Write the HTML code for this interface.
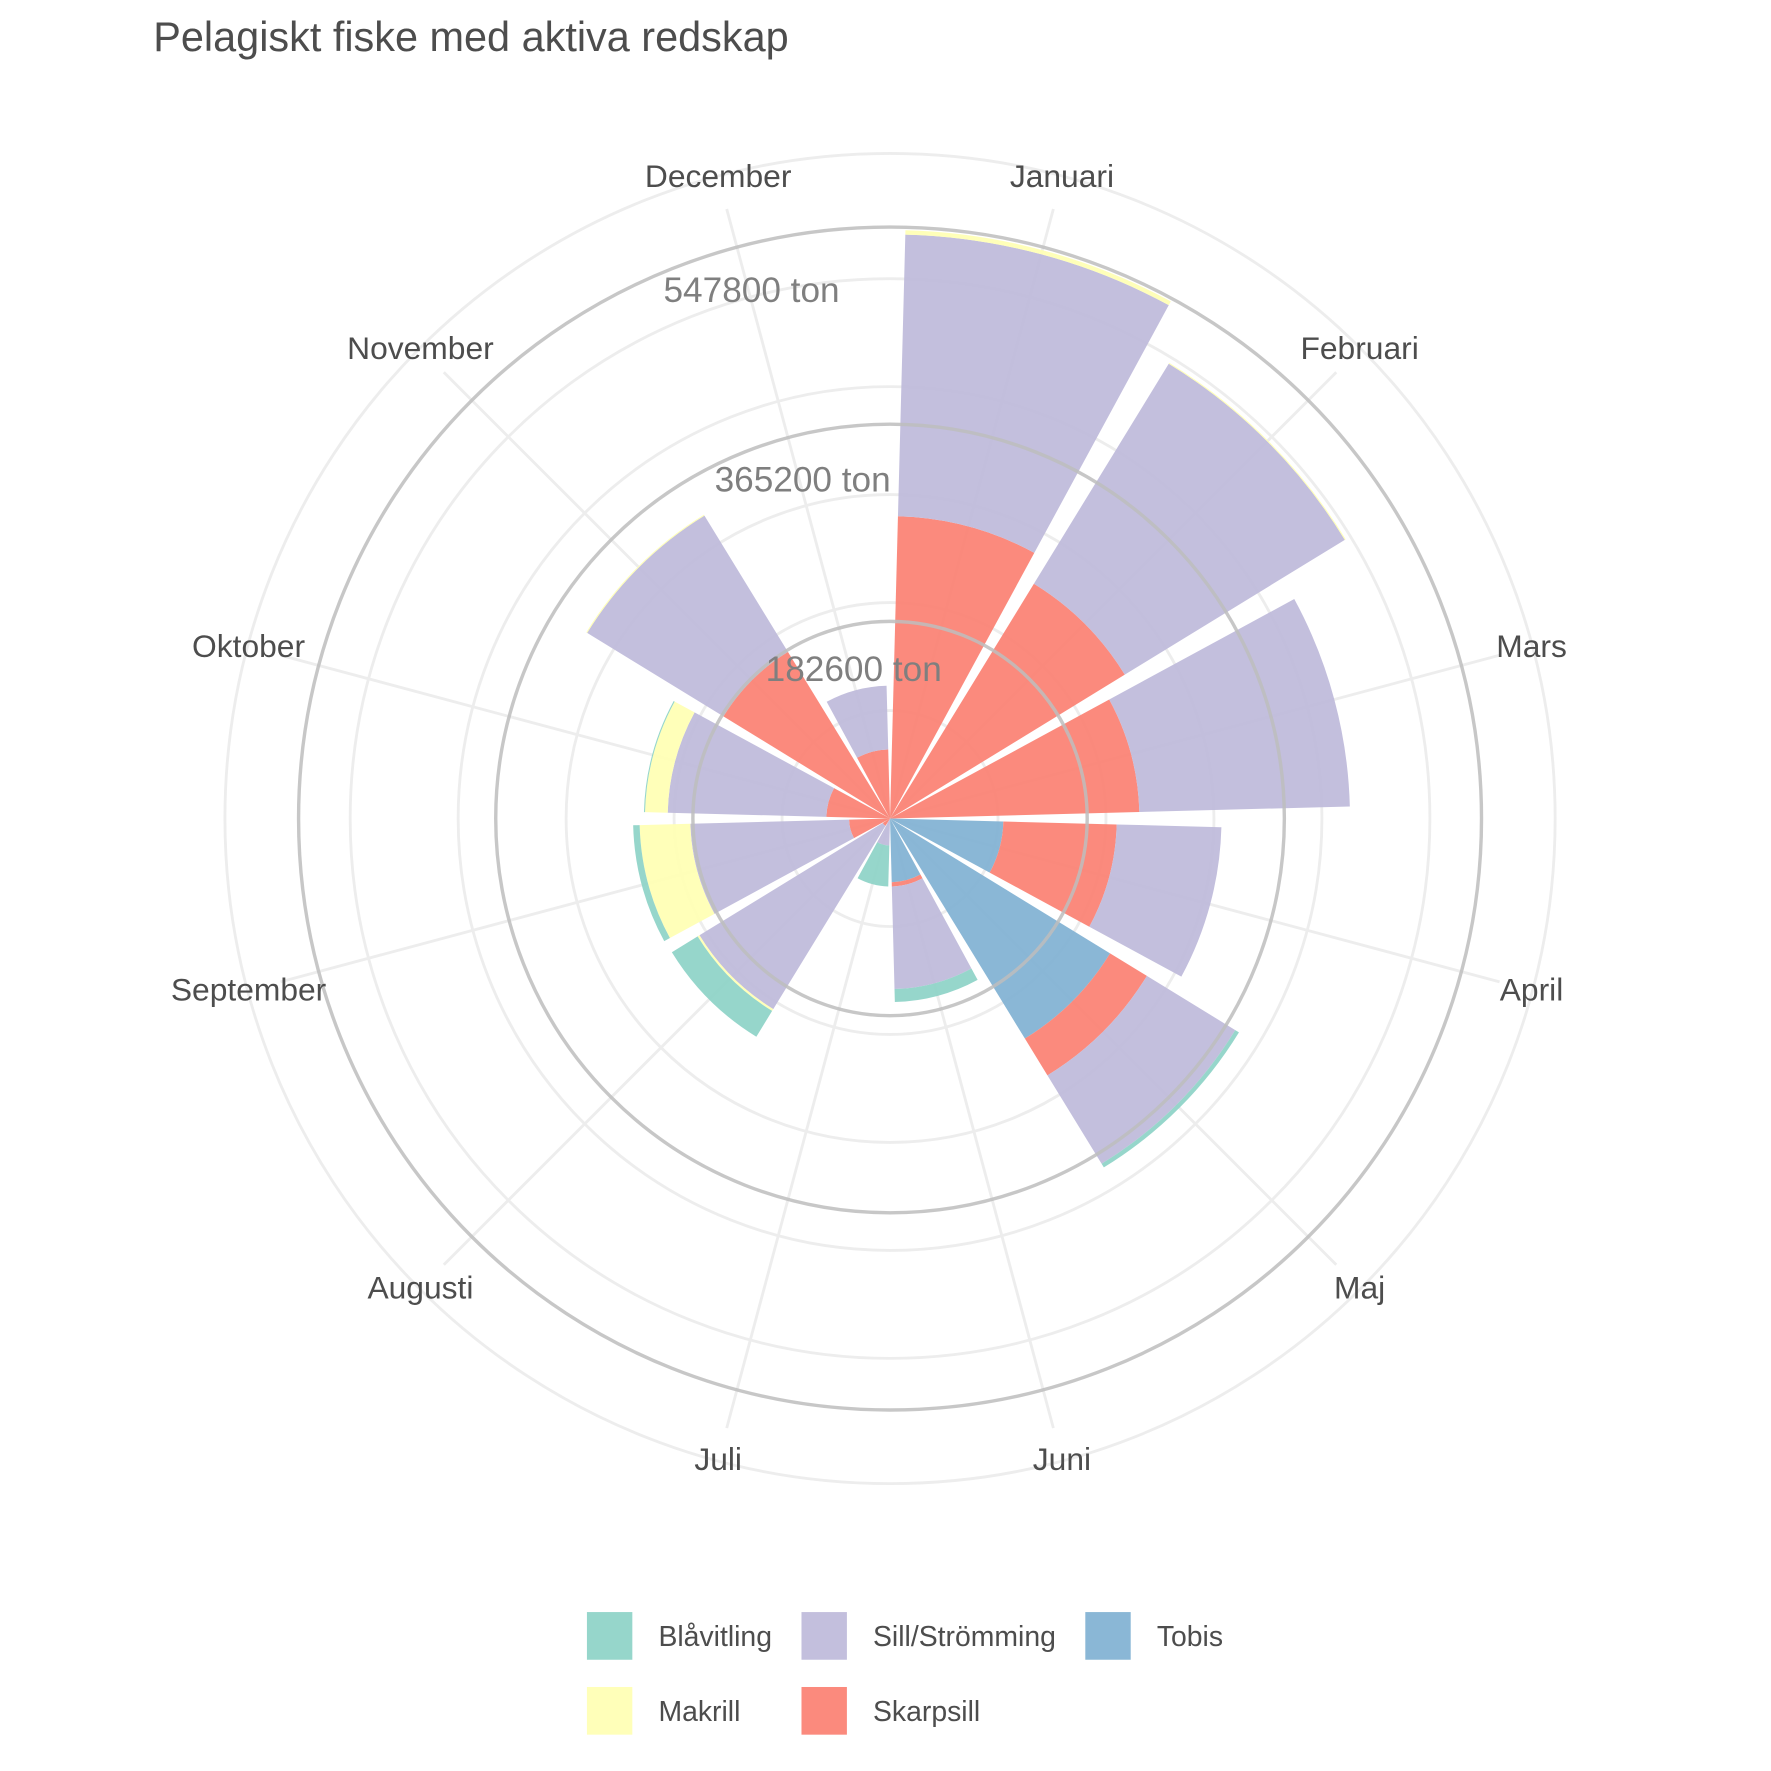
<!DOCTYPE html>
<html><head><meta charset="utf-8"><style>
html,body{margin:0;padding:0;background:#fff;}
svg{display:block;font-family:"Liberation Sans",sans-serif;}
</style></head><body>
<svg id="chart" width="1771" height="1771" viewBox="0 0 1560 1560" xmlns="http://www.w3.org/2000/svg">
<text x="135" y="45" font-size="36.5" fill="#4d4d4d">Pelagiskt fiske med aktiva redskap</text>
<g id="grid"></g><g id="bars"></g><g id="rings"></g><g id="labels"></g>
<g id="legend"></g>
</svg>
<script>
const months = ["Januari","Februari","Mars","April","Maj","Juni","Juli","Augusti","September","Oktober","November","December"];
const speciesNames = ["Tobis","Skarpsill","Sill/Strömming","Makrill","Blåvitling"];
const tobis     = [0,0,0,105000,239000,59000,0,0,0,0,0,0];
const skarpsill = [280000,255000,231000,105000,40000,4000,0,8000,38000,59000,181000,64000];
const sill      = [261000,239000,195000,97000,96000,95000,25000,199000,147000,147000,148000,59000];
const makrill   = [4000,1000,0,0,0,0,0,2000,47000,21000,1000,0];
const blavitling= [0,0,0,0,4000,12000,38000,28000,6000,1000,0,0];
const tickValues = [182600,365200,547800];
const tickLabels = ["182600 ton","365200 ton","547800 ton"];
const minorValues = [100000,200000,300000,400000,500000,616000];

const colors = ["#80b1d3","#fb8072","#bebada","#ffffb3","#8dd3c7"];
const series = [tobis,skarpsill,sill,makrill,blavitling];
const cx=784, cy=721, R=521, maxV=547800;
const NS="http://www.w3.org/2000/svg";
function rScale(v){return v*R/maxV;}
function aScale(i){return i*30;}
function pt(r,a){const t=a*Math.PI/180;return [cx+r*Math.sin(t), cy-r*Math.cos(t)];}
function mk(tag,attrs,parent){const e=document.createElementNS(NS,tag);for(const k in attrs)e.setAttribute(k,attrs[k]);parent.appendChild(e);return e;}
const grid=document.getElementById('grid'), bars=document.getElementById('bars'), rings=document.getElementById('rings'), labels=document.getElementById('labels'), legend=document.getElementById('legend');
minorValues.forEach(v=>{
  const c=mk('circle',{cx:cx,cy:cy,r:rScale(v),fill:'none',stroke:'#ededed','stroke-width':2.5},grid);
  
  
});
months.forEach((m,i)=>{
  const a=aScale(i)+15; const p=pt(rScale(616000)-30,a);
  const l=mk('line',{x1:cx,y1:cy,x2:p[0],y2:p[1],stroke:'#ededed','stroke-width':2.5},grid);
  
  
  const q=pt(585,a);
  const t=mk('text',{x:q[0],y:q[1]+9,'font-size':28,fill:'#4d4d4d','text-anchor':'middle'},labels);
  t.textContent=m;
  
  
});
function sector(r0,r1,a0,a1){
  const p0=pt(r1,a0),p1=pt(r1,a1),p2=pt(r0,a1),p3=pt(r0,a0);
  return `M${p0[0]},${p0[1]} A${r1},${r1} 0 0 1 ${p1[0]},${p1[1]} L${p2[0]},${p2[1]} A${r0},${r0} 0 0 0 ${p3[0]},${p3[1]} Z`;
}
months.forEach((m,i)=>{
  let cum=0; const a0=aScale(i)+1.5, a1=aScale(i)+28.5;
  series.forEach((s,k)=>{
    const v=s[i]; if(v<=0)return;
    const p=mk('path',{d:sector(rScale(cum),rScale(cum+v),a0,a1),fill:colors[k],'fill-opacity':0.92},bars);
    
    
    cum+=v;
  });
});
const labelPos=[[752,600],[707,433],[662,266]];
tickValues.forEach((v,i)=>{
  const c=mk('circle',{cx:cx,cy:cy,r:rScale(v),fill:'none',stroke:'#bdbdbd','stroke-width':3,'stroke-opacity':0.85},rings);
  
  
  const t=mk('text',{x:labelPos[i][0],y:labelPos[i][1],'font-size':31,fill:'#7f7f7f','text-anchor':'middle'},labels);
  t.textContent=tickLabels[i];
  
  
});
const legItems=[["Blåvitling",4,517,1420],["Sill/Strömming",2,706,1420],["Tobis",0,956,1420],["Makrill",3,517,1486],["Skarpsill",1,706,1486]];
legItems.forEach(it=>{
  const r=mk('rect',{x:it[2],y:it[3],width:40,height:42,fill:colors[it[1]],'fill-opacity':0.92},legend);
  
  
  const t=mk('text',{x:it[2]+63,y:it[3]+30,'font-size':25,fill:'#4d4d4d'},legend);
  t.textContent=it[0];
  
  
});
</script>
</body></html>
